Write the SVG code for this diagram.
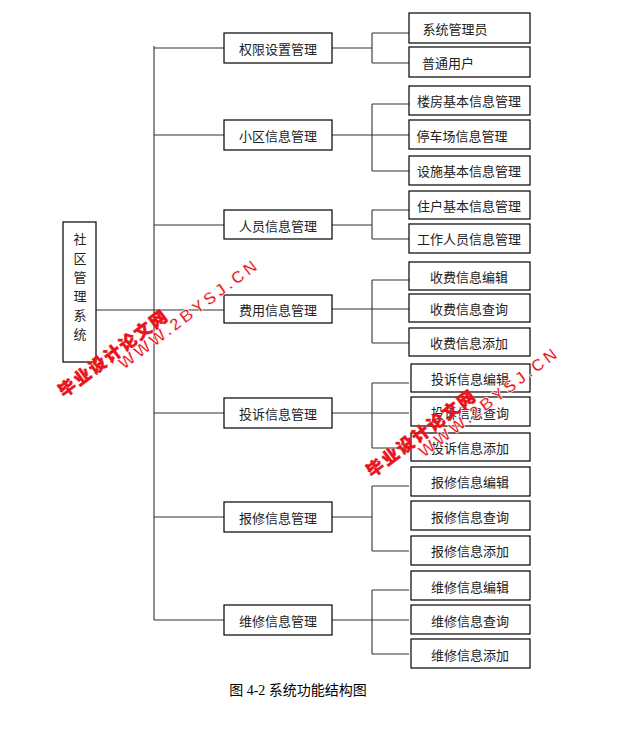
<svg xmlns="http://www.w3.org/2000/svg" width="624" height="735" viewBox="0 0 624 735">
<style>
rect{fill:#fff;stroke:#000;stroke-width:1.2}
.t{font-family:"Noto Sans CJK SC",sans-serif;font-size:13px;fill:#222;text-anchor:middle;dominant-baseline:central}
.c{stroke:#333;stroke-width:1.1;fill:none}
.w{font-family:"Liberation Sans","Noto Sans CJK SC",sans-serif;font-weight:bold;font-size:17px;fill:#e8131b;stroke:#fff;stroke-width:0.6;letter-spacing:3px}
.wc{font-family:"Noto Sans CJK SC",sans-serif;font-weight:900;font-size:17px;fill:#e8131b;stroke:#e8131b;stroke-width:0.5;letter-spacing:2px}
.cap{font-family:"Liberation Serif","Noto Sans CJK SC",serif;font-size:14px;fill:#000;text-anchor:middle}
</style>
<rect width="624" height="735" style="fill:#fff;stroke:none"/>
<g id="connectors" class="c">
<path d="M96 310H224M154 46V620M154 48H224M154 135H224M154 225H224M154 413H224M154 517H224M154 620H224"/>
<path d="M332 48H372M372 33V63M372 33H409M372 63H409"/>
<path d="M332 135H409M372 104V171M372 104H409M372 171H409"/>
<path d="M332 225H372M372 210V239M372 210H409M372 239H409"/>
<path d="M332 309H409M372 280V343M372 280H409M372 343H409"/>
<path d="M332 413H409M372 383V448M372 383H409M372 448H409"/>
<path d="M332 517H372M372 486V551M372 486H409M372 551H409"/>
<path d="M332 620H409M372 590V654M372 590H409M372 654H409"/>
</g>
<g id="root"><rect x="63" y="222" width="33" height="140"/>
<text class="t" x="80" y="238">社</text><text class="t" x="80" y="257">区</text><text class="t" x="80" y="276">管</text><text class="t" x="80" y="295">理</text><text class="t" x="80" y="314">系</text><text class="t" x="80" y="333">统</text></g>
<g id="n1"><rect x="224" y="33" width="108" height="30"/><text class="t" x="278" y="48">权限设置管理</text></g>
<g id="n2"><rect x="224" y="120" width="108" height="30"/><text class="t" x="278" y="135">小区信息管理</text></g>
<g id="n3"><rect x="224" y="210" width="108" height="29"/><text class="t" x="278" y="225">人员信息管理</text></g>
<g id="n4"><rect x="224" y="295" width="108" height="28"/><text class="t" x="278" y="309">费用信息管理</text></g>
<g id="n5"><rect x="224" y="398" width="108" height="30"/><text class="t" x="278" y="413">投诉信息管理</text></g>
<g id="n6"><rect x="224" y="502" width="108" height="30"/><text class="t" x="278" y="517">报修信息管理</text></g>
<g id="n7"><rect x="224" y="605" width="108" height="30"/><text class="t" x="278" y="620">维修信息管理</text></g>
<g id="l11"><rect x="409" y="13" width="121" height="30"/><text class="t" x="455" y="28">系统管理员</text></g>
<g id="l12"><rect x="409" y="47" width="121" height="30"/><text class="t" x="448" y="62">普通用户</text></g>
<g id="l21"><rect x="409" y="86" width="121" height="29"/><text class="t" x="469" y="100">楼房基本信息管理</text></g>
<g id="l22"><rect x="409" y="120" width="121" height="29"/><text class="t" x="462" y="135">停车场信息管理</text></g>
<g id="l23"><rect x="409" y="156" width="121" height="29"/><text class="t" x="469" y="170">设施基本信息管理</text></g>
<g id="l31"><rect x="409" y="191" width="121" height="28"/><text class="t" x="469" y="205">住户基本信息管理</text></g>
<g id="l32"><rect x="409" y="224" width="121" height="29"/><text class="t" x="469" y="238">工作人员信息管理</text></g>
<g id="l41"><rect x="409" y="262" width="121" height="28"/><text class="t" x="469" y="276">收费信息编辑</text></g>
<g id="l42"><rect x="409" y="294" width="121" height="28"/><text class="t" x="469" y="308">收费信息查询</text></g>
<g id="l43"><rect x="409" y="328" width="121" height="28"/><text class="t" x="469" y="342">收费信息添加</text></g>
<g id="l51"><rect x="411" y="364" width="119" height="28"/><text class="t" x="470" y="378">投诉信息编辑</text></g>
<g id="l52"><rect x="411" y="397" width="119" height="29"/><text class="t" x="470" y="412">投诉信息查询</text></g>
<g id="l53"><rect x="411" y="433" width="119" height="28"/><text class="t" x="470" y="447">投诉信息添加</text></g>
<g id="l61"><rect x="411" y="467" width="119" height="29"/><text class="t" x="470" y="481">报修信息编辑</text></g>
<g id="l62"><rect x="411" y="501" width="119" height="29"/><text class="t" x="470" y="516">报修信息查询</text></g>
<g id="l63"><rect x="411" y="536" width="119" height="29"/><text class="t" x="470" y="550">报修信息添加</text></g>
<g id="l71"><rect x="411" y="571" width="119" height="29"/><text class="t" x="470" y="586">维修信息编辑</text></g>
<g id="l72"><rect x="411" y="605" width="119" height="29"/><text class="t" x="470" y="620">维修信息查询</text></g>
<g id="l73"><rect x="411" y="639" width="119" height="29"/><text class="t" x="470" y="654">维修信息添加</text></g>
<g id="watermarks">
<text class="wc" transform="translate(64,398) rotate(-37)">毕业设计论文网</text>
<text class="w" transform="translate(124,370) rotate(-37)">WWW.2BYSJ.CN</text>
<text class="wc" transform="translate(372,478) rotate(-37)">毕业设计论文网</text>
<text class="w" transform="translate(424,458) rotate(-37)">WWW.2BYSJ.CN</text>
</g>
<text class="cap" x="298" y="695">图 4-2 系统功能结构图</text>
</svg>
